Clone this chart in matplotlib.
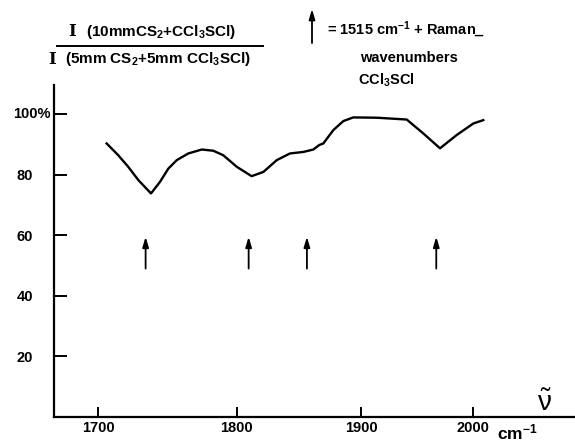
import numpy as np
import matplotlib
matplotlib.use('Agg')
import matplotlib.pyplot as plt

plt.rcParams['font.family'] = ['Liberation Sans', 'DejaVu Sans']
plt.rcParams['mathtext.fontset'] = 'custom'
plt.rcParams['mathtext.rm'] = 'Liberation Sans'
plt.rcParams['mathtext.it'] = 'Liberation Sans:italic'
plt.rcParams['mathtext.bf'] = 'Liberation Sans:bold'

wavenumber = [1705.9, 1713.9, 1720.8, 1727.9, 1736.8, 1743.2, 1749.2, 1755.3,
              1763.7, 1773.6, 1782.2, 1789.7, 1799.9, 1811.3, 1820.4, 1830.9,
              1841.4, 1852.1, 1860.2, 1865.1, 1868.4, 1876.6, 1885.0, 1893.3,
              1913.3, 1939.5, 1954.3, 1969.4, 1984.8, 2000.3, 2009.7]
ratio = [90.3, 86.4, 82.6, 78.2, 73.8, 77.6, 82.0, 84.8,
         87.0, 88.3, 87.9, 86.4, 82.6, 79.5, 80.9, 84.8,
         87.0, 87.5, 88.3, 89.8, 90.3, 94.7, 97.7, 98.9,
         98.8, 98.2, 93.6, 88.7, 93.1, 96.9, 98.0]

# 1515 cm-1 + Raman wavenumbers of CCl3SCl
raman_marks = [1733, 1809, 1855, 1966]
arrow_from, arrow_to = 49, 59.5

xticks = [1700, 1800, 1900, 2000]
yticks = [20, 40, 60, 80, 100]
ytick_labels = ['20', '40', '60', '80', '']

ARROW = '-|>,head_length=0.6,head_width=0.18'


# chart axis is linear in 1/wavenumber (linear in wavelength)
def recip(x):
    x = np.asarray(x, dtype=float)
    with np.errstate(divide='ignore', invalid='ignore'):
        return -1e6 / x


fig = plt.figure(figsize=(5.75, 4.44), dpi=100)
ax = fig.add_axes([54 / 575, 27 / 444, 521 / 575, 332 / 444])
ax.set_xscale('function', functions=(recip, recip))
ax.set_xlim(1670.6, 2100.8)
ax.set_ylim(0, 109.6)

ax.plot(wavenumber, ratio, color='black', lw=1.7, solid_joinstyle='round')

for nu in raman_marks:
    ax.annotate('', xy=(nu, arrow_to), xytext=(nu, arrow_from),
                arrowprops=dict(arrowstyle=ARROW, color='black', lw=1.3,
                                shrinkA=0, shrinkB=0))

for side in ['top', 'right']:
    ax.spines[side].set_visible(False)
for side in ['left', 'bottom']:
    ax.spines[side].set_linewidth(1.6)

ax.set_xticks(xticks)
ax.set_xticklabels([str(t) for t in xticks], fontsize=10.5, fontweight='bold')
ax.set_yticks(yticks)
ax.set_yticklabels(ytick_labels, fontsize=10.5, fontweight='bold')
ax.xaxis.set_minor_locator(matplotlib.ticker.NullLocator())
ax.tick_params(axis='x', direction='in', length=7, width=1.4, pad=3)
ax.tick_params(axis='y', direction='in', length=9, width=1.4, pad=15)
ax.text(-0.006, 100, '100%', transform=ax.get_yaxis_transform(),
        ha='right', va='center', fontsize=10.5, fontweight='bold')

# axis unit labels
fig.text(545 / 575, 1 - 404 / 444, r'$\tilde{\mathrm{\nu}}$', fontsize=20,
         ha='center', va='center')
fig.text(497 / 575, 1 - 432 / 444, r'cm$^{\mathbf{-1}}$', fontsize=12.5,
         ha='left', va='center', fontweight='bold')

# ratio label in upper left
fig.text(72 / 575, 1 - 32 / 444, 'I', family='DejaVu Serif', fontsize=12,
         ha='center', va='center', fontweight='bold')
fig.text(86 / 575, 1 - 32 / 444, r'(10mmCS$_\mathbf{2}$+CCl$_\mathbf{3}$SCl)',
         fontsize=11, ha='left', va='center', fontweight='bold')
fig.add_artist(plt.Line2D([57 / 575, 263 / 575], [1 - 46 / 444, 1 - 46 / 444],
                          color='black', lw=1.4))
fig.text(52 / 575, 1 - 59 / 444, 'I', family='DejaVu Serif', fontsize=12,
         ha='center', va='center', fontweight='bold')
fig.text(65 / 575, 1 - 59 / 444, r'(5mm CS$_\mathbf{2}$+5mm CCl$_\mathbf{3}$SCl)',
         fontsize=11, ha='left', va='center', fontweight='bold')

# key for the arrows
fig.add_artist(matplotlib.patches.FancyArrowPatch(
    (312 / 575, 1 - 43 / 444), (312 / 575, 1 - 9 / 444),
    transform=fig.transFigure, arrowstyle=ARROW, mutation_scale=10,
    color='black', lw=1.3, shrinkA=0, shrinkB=0))
fig.text(327 / 575, 1 - 30 / 444, r'= 1515 cm$^{\mathbf{-1}}$ + Raman_',
         fontsize=10.5, ha='left', va='center', fontweight='bold')
fig.text(360 / 575, 1 - 58 / 444, 'wavenumbers', fontsize=10.5,
         ha='left', va='center', fontweight='bold')
fig.text(358 / 575, 1 - 80 / 444, r'CCl$_\mathbf{3}$SCl', fontsize=10.5,
         ha='left', va='center', fontweight='bold')

fig.savefig('out.png', dpi=100)
